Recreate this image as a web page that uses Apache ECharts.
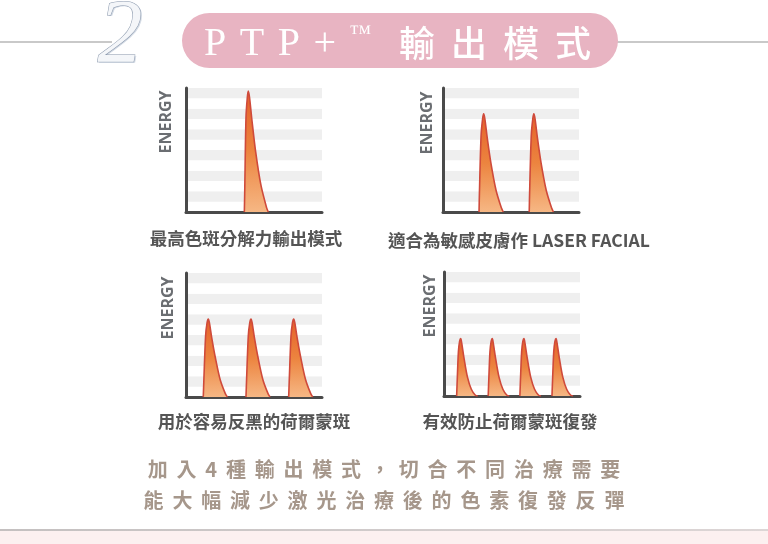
<!DOCTYPE html>
<html>
<head>
<meta charset="utf-8">
<script src="https://cdn.jsdelivr.net/npm/echarts@6/dist/echarts.min.js"></script>
<style>
  html, body { margin: 0; padding: 0; background: #fff; }
  #wrap { position: relative; width: 768px; height: 544px; overflow: hidden; }
  #chart { position: absolute; left: 0; top: 0; width: 768px; height: 544px; }
  #title {
    position: absolute; left: 204px; top: 13px; height: 56px;
    display: flex; align-items: center;
    color: #fff; white-space: nowrap;
  }
  #title .lat { font-family: "Liberation Serif", "DejaVu Serif", serif; font-size: 40px; letter-spacing: 13.5px; }
  #title .tm { font-family: "Liberation Serif", serif; font-size: 22px; letter-spacing: 28px; position: relative; top: -8px; }
  #title .cjk { font-family: "Noto Sans CJK TC", sans-serif; font-size: 36px; font-weight: 500; letter-spacing: 16px; }
  .note {
    position: absolute; left: 0; width: 768px; text-align: center;
    font-family: "Noto Sans CJK TC", sans-serif; font-weight: 700; font-size: 20px;
    letter-spacing: 8.8px; padding-left: 8.8px; box-sizing: border-box;
    color: #a6978b; line-height: 24px;
  }
</style>
</head>
<body>
<div id="wrap">
  <div id="chart"></div>
  <div id="title"><span class="lat">PTP+</span><span class="tm">™</span><span class="cjk">輸出模式</span></div>
  <div class="note" id="note1" style="top:457px"></div>
  <div class="note" id="note2" style="top:488px"></div>
</div>
<script>
// 每個脈衝: [x, 能量] , x 軸 0-100, 能量 0-12
var pulsesHighRes = [
    [[42.9,0],[43.2,2.1],[44.1,9.1],[45.1,11.1],[45.8,11.7],[46.7,11.1],[48.3,9.1],[51.2,5.85],[55.1,2.6],[59.3,0.4],[60.5,0]]
];
var pulsesSensitive = [
    [[26.5,0],[26.8,1.9],[28.0,7.4],[29.1,9.0],[29.9,9.5],[30.8,9.0],[32.5,7.2],[35.2,4.75],[39.0,2.1],[42.9,0.4],[44.3,0]],
    [[63.4,0],[63.7,1.9],[64.9,7.4],[66.0,9.0],[66.8,9.5],[67.7,9.0],[69.4,7.2],[72.1,4.75],[75.9,2.1],[79.8,0.4],[81.2,0]]
];
var pulsesPigment = [
    [[12.7,0],[13.1,1.5],[14.4,5.9],[15.5,7.2],[16.4,7.55],[17.2,7.2],[18.9,5.75],[21.6,3.8],[25.2,1.65],[29.0,0.3],[30.4,0]],
    [[44.1,0],[44.5,1.5],[45.8,5.9],[46.9,7.2],[47.8,7.55],[48.6,7.2],[50.3,5.75],[53.0,3.8],[56.6,1.65],[60.4,0.3],[61.8,0]],
    [[75.5,0],[75.9,1.5],[77.2,5.9],[78.3,7.2],[79.2,7.55],[80.0,7.2],[81.7,5.75],[84.4,3.8],[88.0,1.65],[91.8,0.3],[93.2,0]]
];
var pulsesHormone = [
    [[9.3,0],[9.6,1.1],[10.6,4.3],[11.5,5.3],[12.3,5.55],[13.0,5.15],[14.8,3.6],[17.3,1.8],[20.1,0.65],[22.9,0.1],[24.8,0]],
    [[32.5,0],[32.8,1.1],[33.8,4.3],[34.7,5.3],[35.5,5.55],[36.2,5.15],[38.0,3.6],[40.5,1.8],[43.3,0.65],[46.1,0.1],[48.0,0]],
    [[55.8,0],[56.1,1.1],[57.1,4.3],[58.0,5.3],[58.8,5.55],[59.5,5.15],[61.3,3.6],[63.8,1.8],[66.6,0.65],[69.4,0.1],[71.3,0]],
    [[79.4,0],[79.7,1.1],[80.7,4.3],[81.6,5.3],[82.4,5.55],[83.1,5.15],[84.9,3.6],[87.4,1.8],[90.2,0.65],[93.0,0.1],[94.9,0]]
];
var captions = ['最高色斑分解力輸出模式', '適合為敏感皮膚作 LASER FACIAL', '用於容易反黑的荷爾蒙斑', '有效防止荷爾蒙斑復發'];
var axisName = 'ENERGY';
var noteLines = ['加入4種輸出模式，切合不同治療需要', '能大幅減少激光治療後的色素復發反彈'];

var panels = [
    {pulses: pulsesHighRes, left: 186, top: 88, nameX: 166, nameY: 122, capX: 246, capY: 238},
    {pulses: pulsesSensitive, left: 443, top: 88, nameX: 427, nameY: 123, capX: 519, capY: 240},
    {pulses: pulsesPigment, left: 186, top: 273, nameX: 168, nameY: 308, capX: 254, capY: 421},
    {pulses: pulsesHormone, left: 444, top: 272, nameX: 430, nameY: 306, capX: 510, capY: 421}
];

document.getElementById('note1').textContent = noteLines[0];
document.getElementById('note2').textContent = noteLines[1];

var grids = [], xAxes = [], yAxes = [], series = [], graphics = [];

// 背景 / 裝飾
graphics.push({type: 'rect', shape: {x: 0, y: 531, width: 768, height: 13}, style: {fill: '#fcf0f0'}, z: -10});
graphics.push({type: 'line', shape: {x1: 0, y1: 530, x2: 768, y2: 530},
    style: {stroke: new echarts.graphic.LinearGradient(0, 0, 1, 0, [{offset: 0, color: '#c4c0c0'}, {offset: 1, color: '#ddd6d6'}]), lineWidth: 2}, z: -9});
graphics.push({type: 'line', shape: {x1: 0, y1: 42, x2: 112, y2: 42}, style: {stroke: '#c9c9c9', lineWidth: 2}, z: -9});
graphics.push({type: 'line', shape: {x1: 616, y1: 42, x2: 768, y2: 42}, style: {stroke: '#c9c9c9', lineWidth: 2}, z: -9});
graphics.push({type: 'rect', shape: {x: 182, y: 13, width: 436, height: 55, r: 27.5}, style: {fill: '#e8b4c2'}, z: -8});
graphics.push({type: 'text', x: 121.5, y: 39.5, z: -7,
    style: {text: '2', font: 'italic 90px "Liberation Serif"', fill: '#d3dae4', textAlign: 'center', textVerticalAlign: 'middle'}});
graphics.push({type: 'text', x: 120, y: 38, z: -6,
    style: {text: '2', font: 'italic 90px "Liberation Serif"', fill: '#f4f6f9', stroke: '#8795aa', lineWidth: 1, textAlign: 'center', textVerticalAlign: 'middle'}});

for (var i = 0; i < panels.length; i++) {
    var p = panels[i];
    grids.push({left: p.left, top: p.top, width: 136, height: 124});
    xAxes.push({
        type: 'value', gridIndex: i, min: 0, max: 100,
        axisLine: {show: true, onZero: false, lineStyle: {color: '#4a4a4a', width: 3}},
        axisTick: {show: false}, axisLabel: {show: false}, splitLine: {show: false}
    });
    yAxes.push({
        type: 'value', gridIndex: i, min: 0, max: 12, interval: 1,
        axisLine: {show: true, lineStyle: {color: '#4a4a4a', width: 3}},
        axisTick: {show: false}, axisLabel: {show: false}, splitLine: {show: false},
        splitArea: {show: true, areaStyle: {color: ['#ffffff', '#efefef']}}
    });
    for (var j = 0; j < p.pulses.length; j++) {
        series.push({
            type: 'line', xAxisIndex: i, yAxisIndex: i,
            data: p.pulses[j],
            smooth: 0.3,
            symbol: 'none', silent: true,
            lineStyle: {color: '#cf4a3b', width: 1.6},
            areaStyle: {
                opacity: 1,
                color: new echarts.graphic.LinearGradient(0, 0, 0, 1, [
                    {offset: 0, color: '#e4602a'},
                    {offset: 0.5, color: '#ec843f'},
                    {offset: 1, color: '#f6b784'}
                ])
            }
        });
    }
    graphics.push({type: 'text', x: p.nameX, y: p.nameY, rotation: Math.PI / 2,
        style: {text: axisName, font: 'bold 16px "Open Sans"', fill: '#6b6e72', textAlign: 'center', textVerticalAlign: 'middle'}});
    graphics.push({type: 'text', x: p.capX, y: p.capY,
        style: {text: captions[i], font: 'bold 17.5px "Noto Sans CJK TC"', fill: '#555555', textAlign: 'center', textVerticalAlign: 'middle'}});
}

var chart = echarts.init(document.getElementById('chart'));
chart.setOption({
    animation: false,
    backgroundColor: 'transparent',
    grid: grids,
    xAxis: xAxes,
    yAxis: yAxes,
    series: series,
    graphic: graphics
});
</script>
</body>
</html>
